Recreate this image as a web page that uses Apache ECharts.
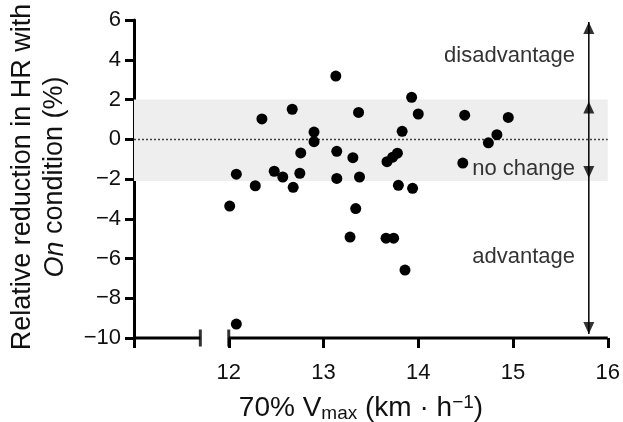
<!DOCTYPE html>
<html><head><meta charset="utf-8">
<script src="https://cdn.jsdelivr.net/npm/echarts@6/dist/echarts.min.js"></script>
<style>html,body{margin:0;padding:0;background:#fff}#c{width:623px;height:422px}</style>
</head><body><div id="c"></div>
<script>
// data: 70% Vmax (km/h) vs relative reduction in HR (%)
const speed = [12.01,12.08,12.08,12.28,12.35,12.48,12.57,12.67,12.68,12.75,12.76,12.90,12.90,13.13,13.14,13.14,13.28,13.31,13.34,13.37,13.38,13.66,13.74,13.67,13.73,13.78,13.79,13.83,13.86,13.93,13.94,14.00,14.49,14.47,14.74,14.83,14.95];
const hrReduction = [-3.36,-1.76,-9.30,-2.34,1.02,-1.61,-1.90,1.51,-2.42,-1.71,-0.69,0.36,-0.12,3.18,-0.61,-1.97,-4.92,-0.93,-3.49,1.35,-1.90,-4.98,-4.98,-1.13,-0.90,-0.70,-2.32,0.40,-6.58,2.11,-2.47,1.27,1.21,-1.20,-0.18,0.23,1.10];
const xTicks = [12,13,14,15,16];
const yTicks = [-10,-8,-6,-4,-2,0,2,4,6];
const bandRange = [-2.1, 2];
const arrowX = 15.8;
const upArrowTips = [5.9, 1.9];
const downArrowTips = [-1.95, -9.8];
const breakStart = 11.7;

const points = speed.map((x,i)=>[x,hrReduction[i]]);
const chart = echarts.init(document.getElementById('c'));
const font = 'Liberation Sans, Arial, sans-serif';
const minus = v => String(v).replace('-', '\u2212');

chart.setOption({
  animation:false,
  grid:{left:134,right:15,top:20,bottom:84},
  xAxis:{type:'value',min:11,max:16,interval:1,
    axisLine:{show:false,onZero:false},splitLine:{show:false},
    axisTick:{show:true,length:10,lineStyle:{color:'#000',width:3}},
    axisLabel:{fontSize:22,color:'#111',fontFamily:font,margin:24,
      formatter:v => xTicks.indexOf(v) >= 0 ? String(v) : ''}},
  yAxis:{type:'value',min:-10,max:6,interval:2,
    axisLine:{show:true,onZero:false,lineStyle:{color:'#000',width:3}},
    splitLine:{show:false},
    axisTick:{show:true,length:9,lineStyle:{color:'#000',width:3}},
    axisLabel:{fontSize:22,color:'#111',fontFamily:font,margin:13,
      formatter:v => yTicks.indexOf(v) >= 0 ? minus(v) : ''}},
  series:[
    {type:'scatter',data:[],silent:true,z:1,
      markArea:{silent:true,itemStyle:{color:'#eeeeee'},label:{show:false},
        data:[[{coord:[11,bandRange[0]]},{coord:[16,bandRange[1]]}]]},
      markLine:{silent:true,symbol:['none','none'],label:{show:false},
        lineStyle:{color:'#444',width:1.3,type:[2,2]},
        data:[[{coord:[11,0]},{coord:[16,0]}]]}},
    {type:'line',data:[[11,-10],[breakStart,-10]],symbol:'none',clip:false,lineStyle:{color:'#000',width:3},z:5},
    {type:'line',data:[[12,-10],[16,-10]],symbol:'none',clip:false,lineStyle:{color:'#000',width:3},z:5},
    {type:'scatter',data:[[breakStart,-10],[12,-10]],symbol:'rect',symbolSize:[3,17],clip:false,
      itemStyle:{color:'#000'},z:5,silent:true},
    {type:'line',data:[[arrowX,upArrowTips[0]],[arrowX,downArrowTips[1]]],symbol:'none',clip:false,
      lineStyle:{color:'#000',width:1.5},z:3},
    {type:'scatter',data:upArrowTips.map(v=>[arrowX,v]),symbol:'triangle',symbolSize:[11,12],symbolOffset:[0,6],
      clip:false,itemStyle:{color:'#000'},z:4,silent:true},
    {type:'scatter',data:downArrowTips.map(v=>[arrowX,v]),symbol:'triangle',symbolSize:[11,12],symbolRotate:180,symbolOffset:[0,-6],
      clip:false,itemStyle:{color:'#000'},z:4,silent:true},
    {type:'scatter',data:points,symbolSize:11,itemStyle:{color:'#000',opacity:1},z:6}
  ],
  graphic:[
    {type:'text',z:100,x:575,y:56,style:{text:'disadvantage',fontSize:22,fontFamily:font,fill:'#333',align:'right',verticalAlign:'middle'}},
    {type:'text',z:100,x:575,y:169,style:{text:'no change',fontSize:22,fontFamily:font,fill:'#333',align:'right',verticalAlign:'middle'}},
    {type:'text',z:100,x:575,y:257,style:{text:'advantage',fontSize:22,fontFamily:font,fill:'#333',align:'right',verticalAlign:'middle'}},
    {type:'text',z:100,x:39,y:177,rotation:Math.PI/2,style:{
      text:'{a|Relative reduction in HR with}\n{i|On}{a| condition (%)}',
      align:'center',verticalAlign:'middle',fill:'#111',
      rich:{a:{fontSize:27,fontFamily:font,lineHeight:32,fill:'#111'},
            i:{fontSize:27,fontFamily:font,fontStyle:'italic',lineHeight:32,fill:'#111'}}}},
    {type:'text',z:100,x:361,y:408,style:{
      text:'{a|70% V}{s|max}{a| (km \u00b7 h}{p|\u22121}{a|)}',
      align:'center',verticalAlign:'middle',
      rich:{a:{fontSize:28,fontFamily:font,fill:'#111',lineHeight:34},
            s:{fontSize:19,fontFamily:font,fill:'#111',padding:[12,0,0,0],lineHeight:34},
            p:{fontSize:19,fontFamily:font,fill:'#111',padding:[0,0,10,0],lineHeight:34}}}}
  ]
});
</script></body></html>
